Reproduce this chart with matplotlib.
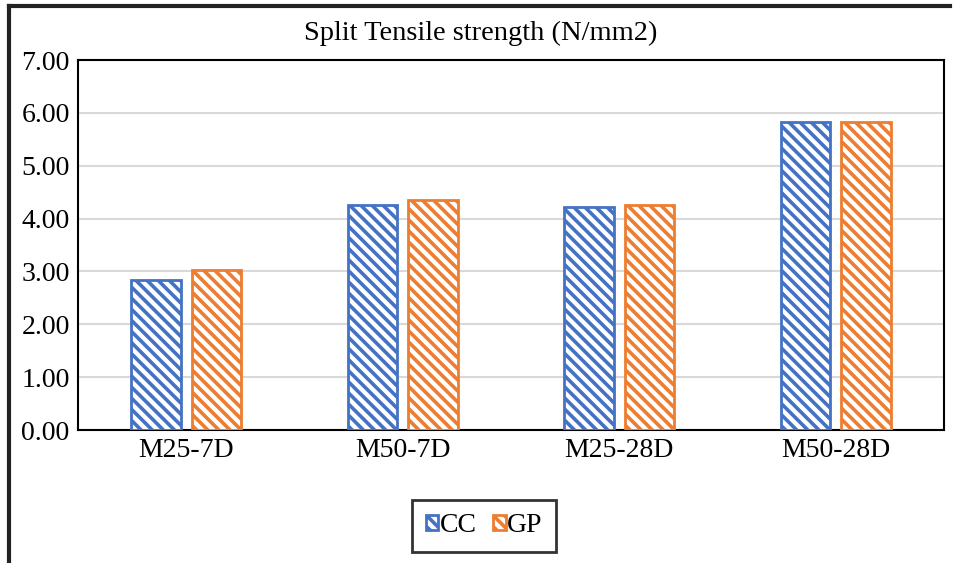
import matplotlib

matplotlib.use("Agg")
import matplotlib.pyplot as plt
import numpy as np
from matplotlib.lines import Line2D

plt.rcParams["font.family"] = ["Liberation Serif", "DejaVu Serif"]
plt.rcParams["hatch.linewidth"] = 2.6

CATEGORIES = ["M25-7D", "M50-7D", "M25-28D", "M50-28D"]
CC = [2.83, 4.26, 4.22, 5.83]
GP = [3.02, 4.35, 4.25, 5.83]
YTICKS = [0, 1, 2, 3, 4, 5, 6, 7]

BLUE = "#4472C4"
ORANGE = "#ED7D31"

fig = plt.figure(figsize=(9.61, 5.63), dpi=100)
ax = fig.add_axes([78 / 961, 1 - 430 / 563, (944 - 78) / 961, (430 - 60) / 563])

x = np.arange(len(CATEGORIES))
w = 0.23
ax.bar(x - 0.14, CC, width=w, facecolor="white", edgecolor=BLUE, hatch="\\\\\\",
       linewidth=2, label="CC", zorder=3)
ax.bar(x + 0.14, GP, width=w, facecolor="white", edgecolor=ORANGE, hatch="\\\\\\",
       linewidth=2, label="GP", zorder=3)

ax.set_xlim(-0.5, len(CATEGORIES) - 0.5)
ax.set_ylim(0, 7)
ax.set_yticks(YTICKS)
ax.set_yticklabels([f"{v:.2f}" for v in YTICKS], fontsize=20)
ax.set_xticks(x)
ax.set_xticklabels(CATEGORIES, fontsize=20)
ax.tick_params(length=0, pad=6)
ax.grid(True, axis="y", color="#d9d9d9", lw=1.5, zorder=0)
for s in ax.spines.values():
    s.set_color("black")
    s.set_linewidth(1.5)

fig.text(0.5, 1 - 33 / 563, "Split Tensile strength (N/mm2)", ha="center", va="center",
         fontsize=20.5)

leg = fig.legend(loc="center", bbox_to_anchor=(484 / 961, 1 - 526 / 563), ncol=2,
                 fontsize=20, frameon=True, fancybox=False, handlelength=0.45,
                 handleheight=0.45, handletextpad=0.05, columnspacing=0.6,
                 borderpad=0.5)
leg.get_frame().set_edgecolor("black")
leg.get_frame().set_linewidth(2)

# cropped outer chart frame (top and left edges only)
fig.add_artist(Line2D([9 / 961, 9 / 961], [0, 1 - 6 / 563], color="#222222", lw=3,
                      transform=fig.transFigure))
fig.add_artist(Line2D([9 / 961, 950 / 961], [1 - 6 / 563, 1 - 6 / 563], color="#222222",
                      lw=3, transform=fig.transFigure))

fig.savefig("out.png", dpi=100)
